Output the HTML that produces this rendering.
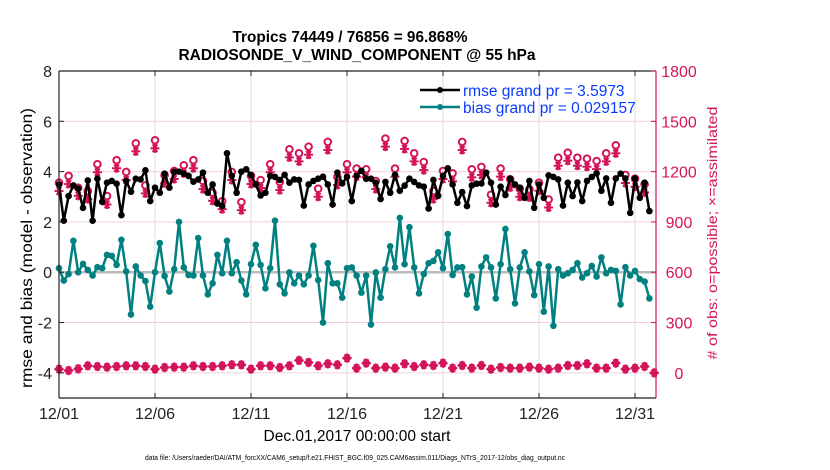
<!DOCTYPE html>
<html><head><meta charset="utf-8"><style>
body{margin:0;background:#fff;}
svg{display:block;font-family:"Liberation Sans",sans-serif;}
</style></head><body>
<svg id="chart" width="830" height="470" viewBox="0 0 830 470" xmlns="http://www.w3.org/2000/svg">
<text x="350" y="42" text-anchor="middle" font-size="15.5" font-weight="bold" textLength="235" lengthAdjust="spacingAndGlyphs">Tropics 74449 / 76856 = 96.868%</text>
<text x="357" y="60" text-anchor="middle" font-size="15.5" font-weight="bold">RADIOSONDE_V_WIND_COMPONENT @ 55 hPa</text>
<g id="grid"></g>
<g id="series"></g>
<g id="axes"></g>
<text transform="translate(32,248) rotate(-90)" text-anchor="middle" font-size="15.5" textLength="280" lengthAdjust="spacingAndGlyphs">rmse and bias (model - observation)</text>
<text transform="translate(717,233) rotate(-90)" text-anchor="middle" font-size="14" fill="#d4145a" textLength="253" lengthAdjust="spacingAndGlyphs"># of obs: o=possible; ×=assimilated</text>
<text x="357" y="441" text-anchor="middle" font-size="15.5">Dec.01,2017 00:00:00 start</text>
<text x="355" y="460" text-anchor="middle" font-size="7" textLength="420" lengthAdjust="spacingAndGlyphs">data file: /Users/raeder/DAI/ATM_forcXX/CAM6_setup/f.e21.FHIST_BGC.f09_025.CAM6assim.011/Diags_NTrS_2017-12/obs_diag_output.nc</text>
<g>
<line x1="420" y1="90" x2="460" y2="90" stroke="#000" stroke-width="2.5"/><circle cx="440" cy="90" r="3" fill="#000"/>
<text x="463" y="96" font-size="15.5" fill="#0a3cff">rmse grand pr = 3.5973</text>
<line x1="420" y1="107" x2="460" y2="107" stroke="#008080" stroke-width="2.5"/><circle cx="440" cy="107" r="3" fill="#008080"/>
<text x="463" y="113" font-size="15.5" fill="#0a3cff">bias grand pr = 0.029157</text>
</g>
</svg>
<script>
const rmse=[3.49,2.05,3.03,3.45,3.32,2.56,3.65,2.05,3.72,2.8,3.56,3.63,3.52,2.27,3.63,3.2,3.72,3.69,4.05,2.83,3.36,3.16,3.92,3.36,3.99,4.0,3.92,3.83,3.6,3.69,3.96,3.16,3.49,2.73,2.63,4.73,3.83,3.16,4.0,4.09,3.87,3.49,3.05,
3.16,3.83,3.79,3.67,3.87,3.56,3.69,3.67,2.65,3.49,3.63,3.72,3.8,3.49,2.69,3.96,3.53,3.79,2.83,3.83,4.03,3.72,3.72,3.56,2.91,3.59,3.16,3.87,3.24,3.44,3.72,3.59,3.45,3.4,2.53,3.67,3.04,3.83,4.13,3.49,2.76,3.19,
2.63,3.45,3.52,3.53,3.96,3.56,2.69,3.4,3.07,3.72,3.49,3.36,2.96,3.63,2.56,3.49,2.96,3.85,3.79,3.69,2.65,3.56,3.03,3.57,2.83,3.63,3.79,3.93,3.24,3.73,2.76,3.73,3.92,3.73,2.36,3.73,2.96,3.56,2.43];
const bias=[0.16,-0.33,-0.07,1.25,0,0.33,0.09,-0.13,0.2,0.16,0.69,0.65,0.29,1.29,0.03,-1.68,0.23,-0.13,-0.35,-1.37,0,1.16,-0.15,-0.77,0.12,2.0,0.19,-0.11,-0.13,1.36,-0.13,-0.88,-0.44,0.69,-0.04,1.25,-0.04,0.4,-0.33,-0.88,0.32,1.09,0.29,
-0.64,0.16,2.05,-0.48,-0.84,-0.01,-0.44,-0.13,-0.48,-0.13,1.05,-0.31,-2.0,0.36,-0.44,-0.44,-1.01,0.16,0.19,-0.13,-0.81,-0.13,-2.08,-0.01,-1.01,0.12,1.03,0.19,2.16,0.32,1.79,0.19,-0.84,-0.07,0.36,0.45,0.79,0.16,1.52,-0.11,0.19,0.2,
-0.88,-0.17,-1.41,0.23,0.59,0.19,-1.04,0.32,1.72,0.12,-1.24,0.19,0.79,0.03,-0.91,0.32,-1.57,0.23,-2.13,0.12,-0.13,-0.04,0.09,0.36,-0.21,-0.04,0.25,-0.17,0.59,-0.04,0.09,0.05,-1.28,0.2,-0.13,0.05,-0.27,-0.37,-1.04];
const obsPossible=[1134,1174,1104,1084,1244,1054,1268,1198,1369,1118,1387,1178,1204,1238,1268,1144,1074,1024,1198,1018,1174,1150,
1244,1138,1333,1309,1349,1098,1377,1168,1244,1218,1214,1144,1397,1218,1383,1309,1257,1084,1204,1190,1377,
1214,1228,1062,1218,1154,1098,1094,1134,1034,1283,1313,1283,1277,1263,1309,1357,1180,1158,1124];
const obsAssim=[1084,1126,1056,1036,1196,1004,1220,1150,1321,1070,1339,1130,1156,1190,1220,1096,1026,976,1150,970,1126,1102,
1196,1090,1285,1261,1301,1050,1329,1120,1196,1170,1166,1096,1349,1170,1335,1261,1209,1036,1156,1142,1329,
1166,1180,1014,1170,1106,1050,1046,1086,986,1235,1265,1235,1229,1215,1261,1309,1132,1110,1076];
const obsLow=[22,14,24,42,38,34,38,42,42,38,22,32,34,34,42,38,38,42,48,48,22,42,42,32,42,74,62,42,54,48,88,28,
58,28,34,28,54,38,48,44,58,28,44,28,44,22,32,28,28,34,28,22,28,44,44,54,28,28,58,22,28,38,0];
const leftTicks=[8,6,4,2,0,-2,-4];
const rightTicks=[1800,1500,1200,900,600,300,0];
const dayTicks=[0,5,10,15,20,25,30];
const dayLabels=["12/01","12/06","12/11","12/16","12/21","12/26","12/31"];

const L=59,R=656,T=71,B=398;
const ns="http://www.w3.org/2000/svg";
const X=d=>L+d*19.2;
const Y=v=>T+(8-v)*(B-T)/13;
const YR=n=>Y(-4)-n*(Y(-4)-Y(8))/1800;
function mk(p,tag,a){const e=document.createElementNS(ns,tag);for(const k in a)e.setAttribute(k,a[k]);p.appendChild(e);return e;}
const grid=document.getElementById('grid'),ser=document.getElementById('series'),ax=document.getElementById('axes');
dayTicks.forEach(d=>{const l=mk(grid,'line',{x1:X(d),x2:X(d),y1:T,y2:B,stroke:'#dcdcdc','stroke-width':1});

});
rightTicks.forEach(n=>{const l=mk(grid,'line',{x1:L,x2:R,y1:YR(n),y2:YR(n),stroke:'#f0d0dc','stroke-width':1});

});
const z=mk(grid,'line',{x1:L,x2:R,y1:Y(0),y2:Y(0),stroke:'#bbb','stroke-width':2.5});



const pink='#d4145a';
function star(g,x,y){for(const a of [0,60,120]){const r=a*Math.PI/180;mk(g,'line',{x1:x-4.5*Math.cos(r),y1:y-4.5*Math.sin(r),x2:x+4.5*Math.cos(r),y2:y+4.5*Math.sin(r),stroke:pink,'stroke-width':2});}mk(g,'line',{x1:x,y1:y-4.5,x2:x,y2:y+4.5,stroke:pink,'stroke-width':2});}
const gA=mk(ser,'g',{});


obsAssim.forEach((n,i)=>star(gA,X(i*0.5),YR(n)));
const gP=mk(ser,'g',{});


obsPossible.forEach((n,i)=>mk(gP,'circle',{cx:X(i*0.5),cy:YR(n),r:3.3,fill:'none',stroke:pink,'stroke-width':2}));
const gL=mk(ser,'g',{});


obsLow.forEach((n,i)=>{const x=X(i*0.5),y=YR(n);mk(gL,'path',{d:`M${x} ${y-5}L${x+5} ${y}L${x} ${y+5}L${x-5} ${y}Z`,fill:pink});star(gL,x,y);});
function line(vals,color,name){const g=mk(ser,'g',{});


mk(g,'polyline',{points:vals.map((v,i)=>X(i*0.25)+','+Y(v)).join(' '),fill:'none',stroke:color,'stroke-width':2.5,'stroke-linejoin':'round'});
vals.forEach((v,i)=>mk(g,'circle',{cx:X(i*0.25),cy:Y(v),r:3.3,fill:color}));}
line(bias,'#008080','bias-series');
line(rmse,'#000','rmse-series');

mk(ax,'line',{x1:L,x2:L,y1:T,y2:B,stroke:'#222','stroke-width':1.2});
mk(ax,'line',{x1:L,x2:R,y1:B,y2:B,stroke:'#222','stroke-width':1.2});
mk(ax,'line',{x1:L,x2:R,y1:T,y2:T,stroke:'#222','stroke-width':1.2});
mk(ax,'line',{x1:R,x2:R,y1:T,y2:B,stroke:pink,'stroke-width':1.2});
leftTicks.forEach(v=>{mk(ax,'line',{x1:L,x2:L+5,y1:Y(v),y2:Y(v),stroke:'#222'});
const t=mk(ax,'text',{x:L-7,y:Y(v)+6,'text-anchor':'end','font-size':16,fill:'#222'});t.textContent=v;

});
rightTicks.forEach(n=>{mk(ax,'line',{x1:R-5,x2:R,y1:YR(n),y2:YR(n),stroke:pink});
const t=mk(ax,'text',{x:R+23,y:YR(n)+6,'text-anchor':'middle','font-size':16,fill:pink});t.textContent=n;

});
dayTicks.forEach((d,i)=>{mk(ax,'line',{x1:X(d),x2:X(d),y1:B,y2:B-5,stroke:'#222'});mk(ax,'line',{x1:X(d),x2:X(d),y1:T,y2:T+5,stroke:'#222'});
const t=mk(ax,'text',{x:X(d),y:B+21,'text-anchor':'middle','font-size':16,fill:'#222'});t.textContent=dayLabels[i];

});
</script>
</body></html>
